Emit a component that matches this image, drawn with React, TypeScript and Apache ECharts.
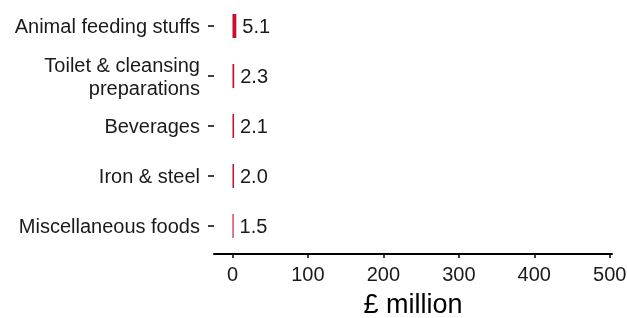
import React, { useEffect, useRef } from "react";
import * as echarts from "echarts";

const categories = [
  "Animal feeding stuffs",
  "Toilet & cleansing\npreparations",
  "Beverages",
  "Iron & steel",
  "Miscellaneous foods",
];
const values = [5.1, 2.3, 2.1, 2.0, 1.5];
const xTicks = [0, 100, 200, 300, 400, 500];
const axisTitle = "£ million";

export default function App() {
  const ref = useRef<HTMLDivElement>(null);
  useEffect(() => {
    if (!ref.current) return;
    const chart = echarts.init(ref.current, null, { renderer: "svg" });
    const font = "Liberation Sans";
    chart.setOption({
      animation: false,
      grid: {
        left: 214,
        right: 15,
        top: 1,
        height: 250,
        containLabel: false,
        outerBoundsMode: "none",
      },
      xAxis: {
        type: "value",
        min: -24.5,
        max: 503,
        offset: 3,
        splitLine: { show: false },
        axisLine: { show: true, lineStyle: { color: "#000", width: 2 } },
        axisTick: {
          show: true,
          length: 4,
          customValues: xTicks,
          lineStyle: { color: "#000", width: 1.5 },
        },
        axisLabel: {
          customValues: xTicks,
          color: "#1a1a1a",
          fontSize: 20,
          fontFamily: font,
          margin: 10,
        },
        name: axisTitle,
        nameLocation: "middle",
        nameGap: 36,
        nameTextStyle: {
          color: "#000",
          fontSize: 27,
          lineHeight: 27,
          fontFamily: font,
        },
      },
      yAxis: {
        type: "category",
        data: categories,
        inverse: true,
        axisLine: { show: false, onZero: false },
        axisTick: {
          show: true,
          length: 6,
          alignWithLabel: true,
          lineStyle: { color: "#000", width: 1.5 },
        },
        axisLabel: {
          color: "#1a1a1a",
          fontSize: 20,
          fontFamily: font,
          margin: 14,
          lineHeight: 23,
          align: "right",
        },
      },
      series: [
        {
          type: "bar",
          data: values,
          barWidth: 24,
          itemStyle: { color: "#C8102E" },
          label: {
            show: true,
            position: "right",
            distance: 6,
            color: "#1a1a1a",
            fontSize: 20,
            fontFamily: font,
            formatter: (p: any) => Number(p.value).toFixed(1),
          },
        },
      ],
    });
    return () => chart.dispose();
  }, []);
  return (
    <div
      ref={ref}
      style={{ position: "fixed", left: 0, top: 0, width: 627, height: 318 }}
    />
  );
}
